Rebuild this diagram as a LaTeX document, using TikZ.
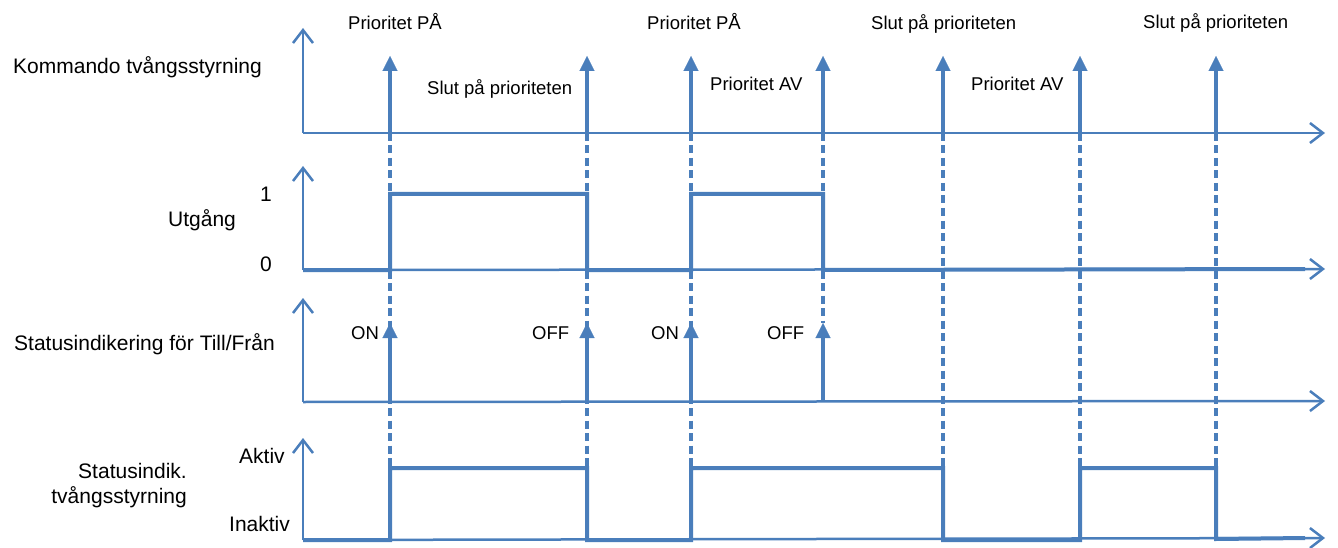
\documentclass[tikz,border=0pt]{standalone}
\usepackage{fontspec}
\setmainfont{Liberation Sans}
\usetikzlibrary{arrows.meta}
\definecolor{sigBlue}{RGB}{74,126,187}
\tikzset{
    % Lines
    axis/.style={draw=sigBlue, line width=2.5pt,
                 -{Straight Barb[width=20pt, length=13pt]}},
    pulse/.style={draw=sigBlue, line width=4pt,
                  -{Triangle[width=15pt, length=15pt, line width=0.1pt]}},
    signal/.style={draw=sigBlue, line width=4pt},
    guide/.style={draw=sigBlue, line width=3.5pt, dash pattern=on 8pt off 4.5pt},
    % Labels
    evlbl/.style={inner sep=0pt, anchor=base west, font=\fontsize{18.5}{22}\selectfont},
    axlbl/.style={inner sep=0pt, anchor=base west, font=\fontsize{21}{25}\selectfont}
}

\begin{document}
\begin{tikzpicture}[x=1pt, y=-1pt]
\useasboundingbox (0,0) rectangle (1338,548);

% Time points of the events
\coordinate (t1) at (390,133);
\coordinate (t2) at (587,133);
\coordinate (t3) at (691,133);
\coordinate (t4) at (823,133);
\coordinate (t5) at (943,133);
\coordinate (t6) at (1080,133);
\coordinate (t7) at (1216,133);

% Dashed guides
\draw[guide] (t1) -- (t1 |- 0,468);
\draw[guide] (t2) -- (t2 |- 0,468);
\draw[guide] (t3) -- (t3 |- 0,468);
\draw[guide] (t4) -- (t4 |- 0,323);
\draw[guide] (t5) -- (t5 |- 0,468);
\draw[guide] (t6) -- (t6 |- 0,468);
\draw[guide] (t7) -- (t7 |- 0,468);

% Axes
\draw[axis] (303,133) -- (303,28);
\draw[axis] (303,133) -- (1325,133);
\draw[axis] (303,270) -- (303,166);
\draw[axis] (303,270) -- (1325,269);
\draw[axis] (303,402) -- (303,298);
\draw[axis] (303,402) -- (1325,401);
\draw[axis] (303,540) -- (303,438);
\draw[axis] (303,540) -- (1325,538);

% Kommando tvångsstyrning
\draw[pulse] (t1) -- (t1 |- 0,56);
\draw[pulse] (t2) -- (t2 |- 0,56);
\draw[pulse] (t3) -- (t3 |- 0,56);
\draw[pulse] (t4) -- (t4 |- 0,56);
\draw[pulse] (t5) -- (t5 |- 0,56);
\draw[pulse] (t6) -- (t6 |- 0,56);
\draw[pulse] (t7) -- (t7 |- 0,56);

% Utgång
\draw[signal] (303,270) -| (390,194) -| (587,270) -| (691,194) -| (823,270) -- (1305,269);

% Statusindikering för Till/Från
\draw[pulse] (t1 |- 0,402) -- (t1 |- 0,323);
\draw[pulse] (t2 |- 0,402) -- (t2 |- 0,323);
\draw[pulse] (t3 |- 0,402) -- (t3 |- 0,323);
\draw[pulse] (t4 |- 0,402) -- (t4 |- 0,323);

% Statusindik. tvångsstyrning
\draw[signal] (303,540) -| (390,468) -| (587,540) -| (691,468) -| (943,540)
    -| (1080,468) -| (1216,539) -- (1305,538);

% Channel labels
\node[axlbl] (kmd) at (13,74) {Kommando tvångsstyrning};
\node[axlbl] (utg) at (168,226) {Utgång};
\node[axlbl, anchor=base east] (one) at (272,202) {1};
\node[axlbl, anchor=base east] (zero) at (272,271) {0};
\node[axlbl] (stat) at (14,350) {Statusindikering för Till/Från};
\node[axlbl] (akt) at (239,463) {Aktiv};
\node[axlbl] (inakt) at (229,531) {Inaktiv};
\node[axlbl, anchor=base east, align=right] (stind) at (187,503) {Statusindik.\\tvångsstyrning};

% Event labels
\node[evlbl] (prio1) at (348,30) {Prioritet PÅ};
\node[evlbl] (slut1) at (427,95) {Slut på prioriteten};
\node[evlbl] (prio2) at (647,30) {Prioritet PÅ};
\node[evlbl] (av1) at (710,91) {Prioritet AV};
\node[evlbl] (slut2) at (871,30) {Slut på prioriteten};
\node[evlbl] (av2) at (971,91) {Prioritet AV};
\node[evlbl] (slut3) at (1143,29) {Slut på prioriteten};
\node[evlbl] (on1) at (351,339) {ON};
\node[evlbl] (off1) at (532,339) {OFF};
\node[evlbl] (on2) at (651,339) {ON};
\node[evlbl] (off2) at (767,339) {OFF};

\end{tikzpicture}
\end{document}
